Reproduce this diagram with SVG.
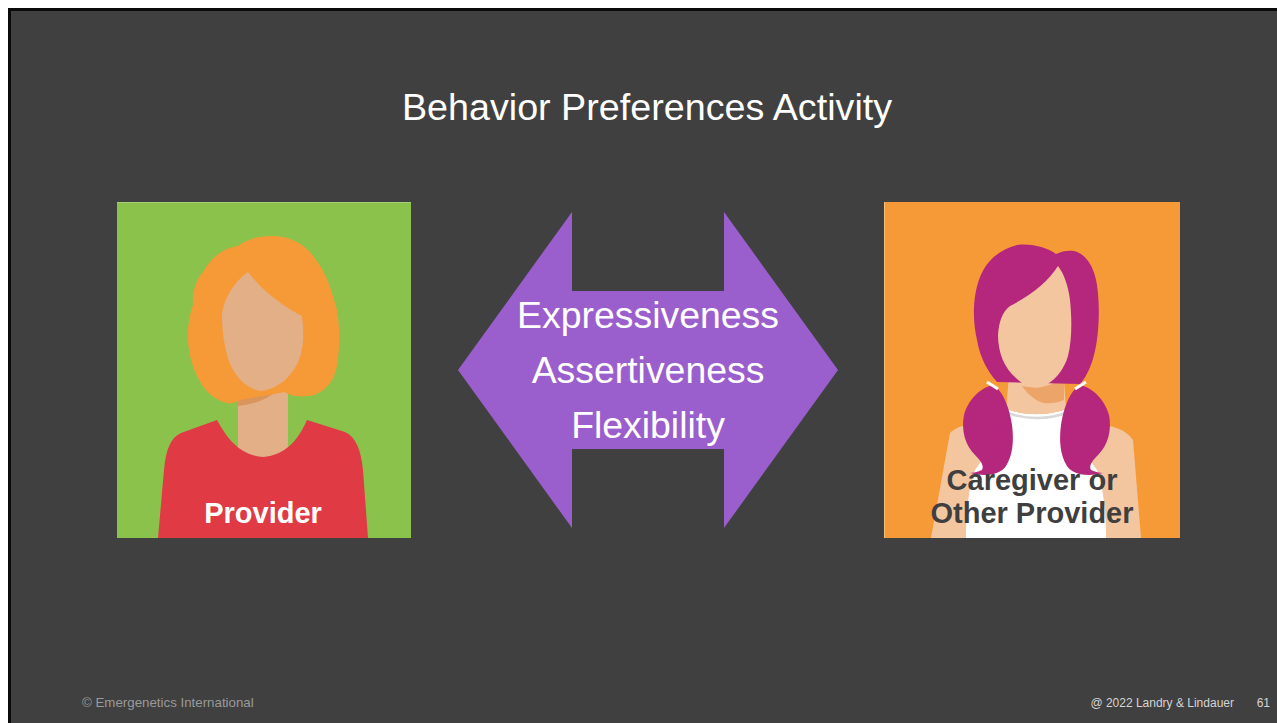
<svg xmlns="http://www.w3.org/2000/svg" width="1277" height="723" viewBox="0 0 1277 723">
  <style>
    .title { font-family: "Liberation Sans", Arial, sans-serif; font-size: 37.7px; fill: #ffffff; }
    .arrow-label { font-family: "Liberation Sans", Arial, sans-serif; font-size: 37.4px; fill: #ffffff; }
    .caption { font-family: "Liberation Sans", Arial, sans-serif; font-size: 29px; font-weight: bold; }
    .footer { font-family: "Liberation Sans", Arial, sans-serif; font-size: 13.3px; fill: #9a9a9a; }
    .footer-right { font-family: "Liberation Sans", Arial, sans-serif; font-size: 12px; fill: #d4d4d4; }
  </style>

  <!-- page and slide frame -->
  <rect x="0" y="0" width="1277" height="723" fill="#ffffff"/>
  <rect x="9.5" y="9.5" width="1280" height="720" fill="#404040" stroke="#0a0a0a" stroke-width="3"/>

  <text class="title" x="647" y="120" text-anchor="middle">Behavior Preferences Activity</text>

  <!-- left avatar: provider -->
  <g id="provider">
    <rect x="117" y="202" width="294" height="336" fill="#8bc24c"/>
    <line x1="117" y1="202.5" x2="411" y2="202.5" stroke="#a4cf74" stroke-width="1"/>
    <!-- neck -->
    <rect x="238" y="372" width="50" height="90" fill="#e2af87"/>
    <path d="M238 384 C252 392 268 392 283 385 C272 398 256 404 238 406 Z" fill="#d9955b"/>
    <!-- shirt with scooped neckline -->
    <path d="M217 420 C228 440 240 455 263 457 C286 455 298 440 307 420 L345 432 C356 437 361 450 363 470 L368 538 L158 538 L164 470 C166 450 170 438 181 433 Z" fill="#e03a45"/>
    <!-- hair -->
    <path d="M227 403 C215 400 205 392 198 378 C190 362 187 345 188 330 C189 318 191 310 193 305 C192 292 196 280 203 272 C212 256 224 248 238 246 C246 240 258 236 272 236 C290 236 306 244 316 260 C324 270 330 285 334 300 C340 315 340 340 338 360 C336 378 328 390 314 395 C300 398 290 396 285 392 L240 400 C235 403 230 404 227 403 Z" fill="#f59a37"/>
    <!-- face, its upper right edge is the swept fringe -->
    <path d="M248 272 C262 290 282 306 302 316 C304 332 304 348 299 360 C292 376 280 388 262 391 C248 390 236 378 230 364 C224 348 222 330 222 314 C224 298 234 282 248 272 Z" fill="#e2af87"/>
    <path d="M276 295 C284 298 292 304 296 312 C290 308 284 304 276 295 Z" fill="#f59a37"/>
    <text class="caption" x="263" y="523" text-anchor="middle" fill="#ffffff">Provider</text>
  </g>

  <!-- connector: double-headed arrow with the three preferences -->
  <g id="connectors">
    <polygon points="458,370 572,212 572,291 724,291 724,212 838,370 724,528 724,449 572,449 572,528" fill="#9b5fcd"/>
    <text class="arrow-label" x="648" y="328" text-anchor="middle">Expressiveness</text>
    <text class="arrow-label" x="648" y="383" text-anchor="middle">Assertiveness</text>
    <text class="arrow-label" x="648" y="438" text-anchor="middle">Flexibility</text>
  </g>

  <!-- right avatar: caregiver or other provider -->
  <g id="caregiver">
    <rect x="884" y="202" width="296" height="336" fill="#f69a38"/>
    <line x1="884.5" y1="202" x2="884.5" y2="538" stroke="#f9be7e" stroke-width="1"/>
    <!-- shoulders and arms -->
    <path d="M950 433 C955 428 962 425 975 424 L1095 424 C1110 425 1126 429 1133 440 L1141 538 L931 538 Z" fill="#f4c6a0"/>
    <!-- white top -->
    <path d="M1005 408 C1000 430 990 450 975 470 C968 490 966 515 966 538 L1106 538 C1106 515 1104 490 1097 470 C1082 450 1072 430 1068 408 C1050 416 1022 416 1005 408 Z" fill="#ffffff"/>
    <!-- neck -->
    <path d="M1010 365 L1063 365 L1066 409 C1048 416 1024 416 1006 409 Z" fill="#f4c6a0"/>
    <path d="M1022 386 C1040 390 1055 385 1064 376 L1064 400 C1055 404 1045 404 1040 402 C1032 398 1026 392 1022 386 Z" fill="#eda468"/>
    <path d="M1006 412 C1024 420 1050 420 1068 412" fill="none" stroke="#d9d9d9" stroke-width="2.5"/>
    <!-- hair crown -->
    <path d="M997 382 C988 372 980 358 977 340 C972 318 973 295 980 277 C986 262 998 250 1017 245 C1032 243 1048 248 1056 254 C1062 251 1068 250 1074 251 C1086 254 1094 266 1097 285 C1100 305 1099 330 1096 346 C1093 362 1088 375 1080 384 Z" fill="#b5277c"/>
    <!-- face, its upper left edge is the swept fringe -->
    <path d="M1058 266 C1048 282 1030 296 1010 306 C1002 312 999 322 998 335 C998 352 1004 368 1016 378 C1024 386 1034 389 1042 387 C1054 382 1064 370 1068 356 C1072 340 1072 320 1070 300 C1068 285 1064 274 1058 266 Z" fill="#f4c6a0"/>
    <!-- pigtails -->
    <path d="M993 385 C980 388 968 400 964 415 C961 430 965 445 975 455 C982 462 984 466 982 470 C978 472 973 473 970 473 C985 477 1000 475 1006 466 C1013 455 1014 440 1012 425 C1010 410 1004 395 998 389 Z" fill="#b5277c"/>
    <path d="M1080 385 C1093 388 1105 400 1109 415 C1112 430 1108 445 1098 455 C1091 462 1089 466 1091 470 C1095 472 1100 473 1103 473 C1088 477 1073 475 1067 466 C1060 455 1059 440 1061 425 C1063 410 1069 395 1075 389 Z" fill="#b5277c"/>
    <!-- hair ties -->
    <line x1="987" y1="382" x2="998" y2="389" stroke="#ffffff" stroke-width="3"/>
    <line x1="1075" y1="389" x2="1086" y2="382" stroke="#ffffff" stroke-width="3"/>
    <text class="caption" x="1032" y="490" text-anchor="middle" fill="#3f3f3f">Caregiver or</text>
    <text class="caption" x="1032" y="523" text-anchor="middle" fill="#3f3f3f">Other Provider</text>
  </g>

  <!-- footer -->
  <text class="footer" x="82" y="707">© Emergenetics International</text>
  <text class="footer-right" x="1234" y="707" text-anchor="end">@ 2022 Landry &amp; Lindauer</text>
  <text class="footer-right" x="1270" y="707" text-anchor="end">61</text>
</svg>
